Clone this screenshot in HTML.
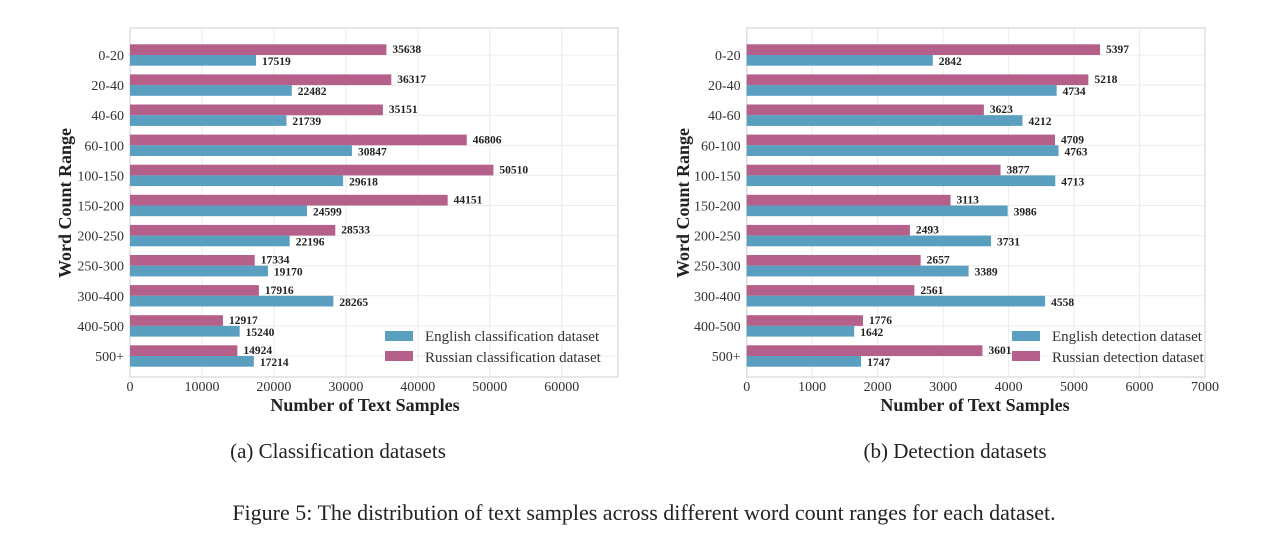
<!DOCTYPE html>
<html><head><meta charset="utf-8">
<style>
html,body{margin:0;padding:0;background:#fff;}
svg{display:block;font-family:"Liberation Serif",serif;}
</style></head>
<body>
<svg id="fig" width="1288" height="559" viewBox="0 0 1288 559" xmlns="http://www.w3.org/2000/svg">
<g id="chartA"></g>
<g id="chartB"></g>
<text x="338" y="458" font-size="21" text-anchor="middle" fill="#222">(a) Classification datasets</text>
<text x="955" y="458" font-size="21" text-anchor="middle" fill="#222">(b) Detection datasets</text>
<text x="644" y="520" font-size="22" text-anchor="middle" fill="#222">Figure 5: The distribution of text samples across different word count ranges for each dataset.</text>
</svg>
<script>
const categories = ["0-20","20-40","40-60","60-100","100-150","150-200","200-250","250-300","300-400","400-500","500+"];
const clsEnglish = [17519,22482,21739,30847,29618,24599,22196,19170,28265,15240,17214];
const clsRussian = [35638,36317,35151,46806,50510,44151,28533,17334,17916,12917,14924];
const detEnglish = [2842,4734,4212,4763,4713,3986,3731,3389,4558,1642,1747];
const detRussian = [5397,5218,3623,4709,3877,3113,2493,2657,2561,1776,3601];
const clsTicks = [0,10000,20000,30000,40000,50000,60000];
const detTicks = [0,1000,2000,3000,4000,5000,6000,7000];

const NS = "http://www.w3.org/2000/svg";
const BLUE = "#5a9ec0", PINK = "#b55f8b";
function mk(parent, tag, attrs, text){
  const e = document.createElementNS(NS, tag);
  for (const k in attrs) e.setAttribute(k, attrs[k]);
  if (text !== undefined) e.textContent = text;
  parent.appendChild(e); return e;
}
function drawChart(g, cfg){
  const x = v => cfg.x0 + (v - 0) / cfg.xmax * (cfg.x1 - cfg.x0);
  const yTop = 28, yBot = 377;
  const step = 30.1, firstC = 55;
  const yc = i => firstC + i * step;
  cfg.ticks.forEach(t => {
    const gl = mk(g, "line", {x1:x(t), x2:x(t), y1:yTop, y2:yBot, stroke:"#ececec", "stroke-width":1});
    
    
    const tl = mk(g, "text", {x:x(t), y:yBot+14, "font-size":14, "text-anchor":"middle", fill:"#333"}, String(t));
    
    
  });
  categories.forEach((c, i) => {
    const gl = mk(g, "line", {x1:cfg.x0, x2:cfg.pr, y1:yc(i), y2:yc(i), stroke:"#ececec", "stroke-width":1});
    
    
  });
  const frame = mk(g, "rect", {x:cfg.x0, y:yTop, width:cfg.pr-cfg.x0, height:yBot-yTop, fill:"none", stroke:"#d8d8d8", "stroke-width":1.2});
  
  
  const bh = 10.7;
  categories.forEach((c, i) => {
    const cl = mk(g, "text", {x:cfg.x0-6, y:yc(i)+5, "font-size":14, "text-anchor":"end", fill:"#333"}, c);
    
    
    const rv = cfg.ru[i], ev = cfg.en[i];
    const rb = mk(g, "rect", {x:cfg.x0, y:yc(i)-bh, width:x(rv)-cfg.x0, height:bh, fill:PINK});
    
    
    const eb = mk(g, "rect", {x:cfg.x0, y:yc(i), width:x(ev)-cfg.x0, height:bh, fill:BLUE});
    
    
    const rl = mk(g, "text", {x:x(rv)+6, y:yc(i)-2, "font-size":11.5, "font-weight":"bold", fill:"#222"}, String(rv));
    
    
    const el = mk(g, "text", {x:x(ev)+6, y:yc(i)+10, "font-size":11.5, "font-weight":"bold", fill:"#222"}, String(ev));
    
    
  });
  const xt = mk(g, "text", {x:cfg.tx, y:411, "font-size":18, "font-weight":"bold", "text-anchor":"middle", fill:"#222"}, "Number of Text Samples");
  
  
  const yt = mk(g, "text", {x:0, y:0, "font-size":18, "font-weight":"bold", "text-anchor":"middle", fill:"#222", transform:`translate(${cfg.yx},203) rotate(-90)`}, "Word Count Range");
  
  
  const l1 = mk(g, "rect", {x:cfg.lx, y:331, width:28, height:10, fill:BLUE});
  
  
  const t1 = mk(g, "text", {x:cfg.lx+40, y:341, "font-size":15, fill:"#333"}, cfg.leg[0]);
  
  
  const l2 = mk(g, "rect", {x:cfg.lx, y:351, width:28, height:10, fill:PINK});
  
  
  const t2 = mk(g, "text", {x:cfg.lx+40, y:362, "font-size":15, fill:"#333"}, cfg.leg[1]);
  
  
}
drawChart(document.getElementById("chartA"), {x0:130, x1:561.7, xmax:60000, pr:618, tx:365, ticks:clsTicks, en:clsEnglish, ru:clsRussian, yx:71, lx:385, leg:["English classification dataset","Russian classification dataset"]});
drawChart(document.getElementById("chartB"), {x0:746.7, x1:1205, xmax:7000, pr:1205, tx:975, ticks:detTicks, en:detEnglish, ru:detRussian, yx:689, lx:1012, leg:["English detection dataset","Russian detection dataset"]});
</script>
</body></html>
